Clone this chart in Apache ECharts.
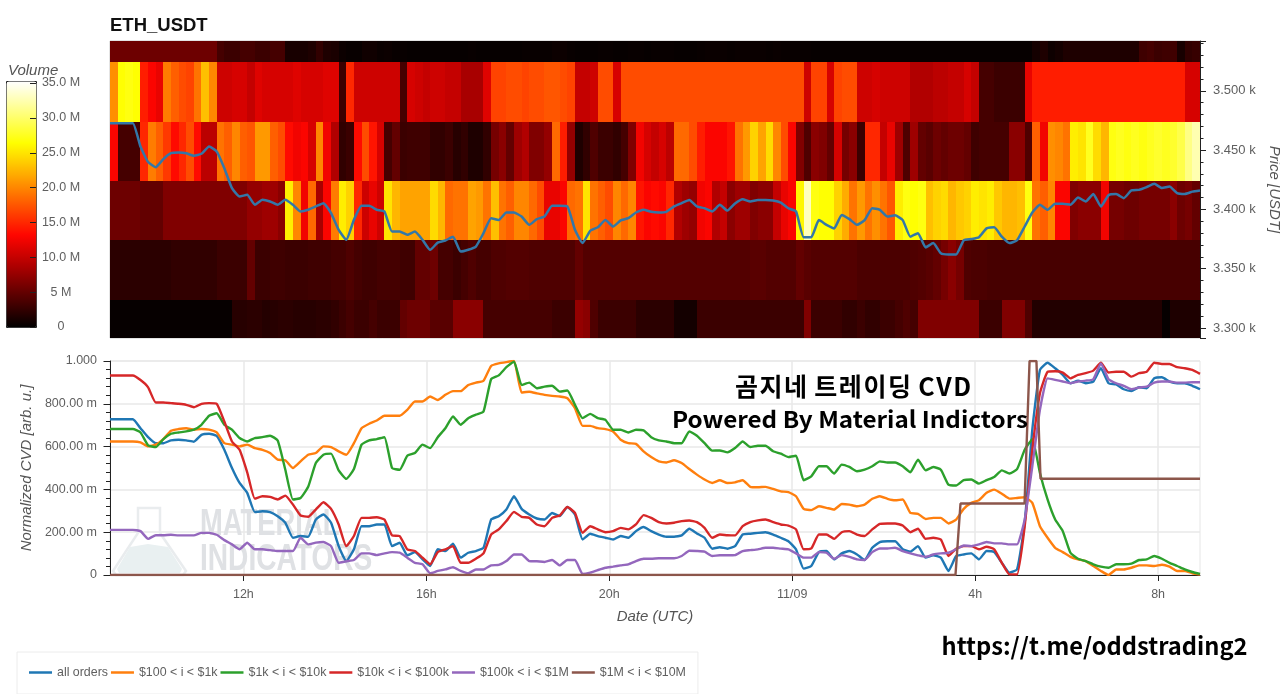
<!DOCTYPE html>
<html lang="en">
<head>
  <meta charset="UTF-8">
  <title>ETH_USDT CVD</title>
  <script src="https://cdn.jsdelivr.net/npm/echarts@6/dist/echarts.min.js"></script>
  <style>
    html, body { margin: 0; padding: 0; background: #fff; overflow: hidden; }
    #chart { width: 1280px; height: 694px; }
  </style>
</head>
<body>
  <div id="chart"></div>
  <script>
    // time in hours counted from 11/08 00:00 UTC, bins are 10 minutes wide
    const startHour = 9 + 5 / 60;
    const endHour = 32 + 55 / 60;
    const binHours = 10 / 60;
    const tickHours = [12, 16, 20, 24, 28, 32];
    const tickNames = ['12h', '16h', '20h', '11/09', '4h', '8h'];

    // heatmap price bands [low, high], top row first
    const priceBands = [[3524, 3542], [3474, 3524], [3424, 3474], [3374, 3424], [3324, 3374], [3291.6, 3324]];

    // traded volume in millions per 10 minute bin, one list per price band
    const volumeBand1 = [
      5.5,5.5,5.5,5.5,5.5,5.5,5.5,5.5,5.5,5.5,
      5.5,5.5,5.5,5.5,3.5,3,3,3.5,3.5,3,
      3,3.5,3.5,1.2,1.2,1.2,1.5,2.5,1.5,1.3,
      0.6,0.4,0.4,0.8,0.8,0.5,0.6,0.4,0.4,0.3,
      0.3,0.3,0.3,0.3,0.3,0.3,0.3,0.4,0.3,0.3,
      0.3,0.3,0.3,0.3,0.4,0.4,0.4,0.4,0.6,0.6,
      0.4,0.3,0.3,0.3,0.4,0.4,0.3,0.3,0.4,0.4,
      0.3,0.4,0.4,0.4,0.3,0.3,0.3,0.4,0.5,0.5,
      0.5,0.4,0.5,0.5,0.5,0.5,0.4,0.5,0.4,0.4,
      0.4,0.4,0.3,0.3,0.3,0.3,0.3,0.3,0.3,0.3,
      0.3,0.3,0.3,0.3,0.3,0.3,0.3,0.3,0.3,0.3,
      0.3,0.3,0.3,0.3,0.3,0.3,0.3,0.3,0.3,0.3,
      0.3,1,1.5,0.7,1,1.5,1.5,1.5,1.5,1.5,
      1.5,1.5,1.5,1.5,1.5,3.2,3.5,3,3.2,3.2,
      1.2,2.5,2.8
    ];
    const volumeBand2 = [
      20.5,26.5,27,26.5,14.5,13,12,19.5,18,17,
      16.5,19,23,20,10.5,10.5,11,11,10,11.5,
      11,11,11,11,11.5,11,11,11,11.5,11.5,
      3,15,10.5,10.5,10.5,10.5,10.5,10.5,3.5,11,
      10.5,10,10.5,10.5,10,10,8.5,8.5,8.5,11.5,
      16.5,16.5,17,17,16.5,17,17,17.5,17.5,17,
      16.5,10,10,10.5,17,17,11,17,17,17,
      17,17,17,17,17,17,17,17,17,17,
      17,17,17,17,17,17,17,17,17,17,
      17,10.5,16.5,16.5,11,16.5,17,17,10.5,10.5,
      11,10.5,10.5,10.5,10.5,9,9,9,9.5,9.5,
      10,10,11,10,3.5,3.5,3,3,3,3,
      12,14.5,14.5,14.5,14.5,14.5,14.5,14.5,14.5,14.5,
      14.5,14.5,14.5,14.5,14.5,14.5,14.5,14.5,14.5,14.5,
      14.5,11,11
    ];
    const volumeBand3 = [
      13,3.5,3.5,3.5,15,19.5,18,16,13.5,15,
      17,13.5,9.5,9.5,19,18,20,18,17.5,21,
      21,18,17,13.5,12.5,13,11,20,12.5,9,
      2.5,3,13.5,17,14,11,3.5,5,3,3.2,
      3.2,3.2,2.5,2.5,3,2,2.5,1.5,1.5,2.5,
      6,7,5,8,9,6.5,6.5,7.5,18.5,14.5,
      7.5,1.5,2.5,4,3,3,2.5,3.5,6.5,12.5,
      11,10,11,9.5,18.5,18.5,17,14.5,13,13,
      13,14,19,21,24,21.5,24.5,20,17,13,
      6.5,4,7,6.5,5,11,6,7,3,15,
      15,10,12,8,4,8,5,4.5,5.5,5,
      5.5,5.5,5,3.2,3.5,3.5,3.5,3.5,7,7,
      4,18,12.5,20.5,20,19,25.5,25,27.5,24.5,
      22.5,27,27.5,27,27.5,27,27.5,28,27.5,28,
      29,31,32.5
    ];
    const volumeBand4 = [
      5.5,5.5,5.5,5.5,5,5,5,6.5,6.5,6.5,
      6.5,6.5,6.5,6.5,6.5,6.5,6.5,6.5,7.5,7.5,
      8,8,7,25.5,20,12.5,18.5,8.5,13,19.5,
      25.5,24,15,10.5,12,10.5,25,22.5,21.5,21.5,
      21.5,21.5,24.5,22.5,18.5,19,19,21.5,21,19,
      23,19,18,20,20,18.5,17,12,12,13,
      18.5,19,25,19,18,17,20,18.5,20,14,
      13,13.5,13,15,9,8,7.5,12.5,13,9,
      10,7,8,8,6.5,7,7,10,12,13,
      26,33,27,26.5,26.5,24,22,19,21,19,
      20.5,19,17.5,25.5,27,26.5,27,23,24,24.5,
      22.5,23.5,24,25.5,25,25.5,23.5,22.5,22.5,23,
      27,19,18,20,13,13,6.5,7,7,7,
      12.5,6,6,5.5,5.5,6,6,6,6,7,
      5.5,6,5
    ];
    const volumeBand5 = [
      2.2,2.2,2.2,2.2,2.2,2.2,2.2,2.2,2.5,2.5,
      2.5,2.5,2.5,2.5,3,3,3,3,5,3,
      3,3.2,3.2,3,3,3,3.2,3.2,3.2,3.5,
      3.5,4,3.5,3.2,3.2,3.5,3.5,3.5,3.2,3.2,
      5,5,5.5,3.5,3.5,3,3.5,4,3.5,3.5,
      4,4,4.2,4.2,4.2,4,4,4,4,4,
      4,5,4.2,4.2,4.2,4.2,4.2,4.2,4.2,4.2,
      4.2,4.2,4.2,4.2,4.2,4.2,4.2,4.2,4.2,4.2,
      4.2,4.2,4.2,4.2,4.5,4.5,4.2,4.2,4.2,4.2,
      5,4.5,4.2,4.2,4.2,4.2,4.2,4.2,3.8,3.8,
      3.8,3.8,3.8,3.8,3.8,4,4.2,4.5,5,6,
      7,6,4,3.8,3.8,3.6,3.6,3.6,3.6,3.6,
      3.6,3.6,3.6,3.6,3.6,3.6,3.6,3.6,3.6,3.6,
      3.6,3.6,3.6,3.6,3.6,3.6,3.6,3.6,3.6,3.6,
      3.6,3.6,3.6
    ];
    const volumeBand6 = [
      0.3,0.3,0.3,0.3,0.3,0.3,0.3,0.3,0.3,0.3,
      0.3,0.3,0.3,0.3,0.3,0.3,2,2,2.2,2.2,
      1.8,2,2.2,2.2,2,2,2,2.2,2.2,2.5,
      3,3.5,3,3,3.5,3,3,3,5,5.5,
      5.5,5.5,4.5,4.5,4.5,7,7,7,7,3.5,
      3.5,3.5,3.5,3.5,3.5,3.5,3.5,3.5,3,3,
      3,7.5,7,4,3,3,3,3,3,2.2,
      2.2,2.2,2.2,2.2,1,1,1,3,3,3,
      3,3,3,3,3,3,3,3,3,3,
      3,6.5,3,3,3,3,2.5,2.5,3,2.5,
      2.5,3,3,3.5,4,3.5,6.5,6.5,6.5,6.5,
      6.5,6.5,6.5,6.5,3,3,3,6.5,6.5,6.5,
      4,1.7,1.7,1.7,1.7,1.7,1.7,1.7,1.7,1.7,
      1.7,1.7,1.7,1.7,1.7,1.7,1.7,1.7,0.3,1.5,
      1.5,1.5,1.5
    ];
    const volumeBands = [volumeBand1, volumeBand2, volumeBand3, volumeBand4, volumeBand5, volumeBand6];

    // last price in USDT, same 10 minute steps as the cvd lists
    const price = [
      3472.7,3472.7,3472.7,3472.7,3453,3439.9,3435.6,3442.4,3447.4,3448,
      3447.4,3445.2,3446.9,3453,3448.9,3434.8,3417.9,3410.9,3412.3,3403.9,
      3408.1,3406.7,3403.9,3408.1,3403.9,3398.3,3399.7,3402.5,3405.3,3396.9,
      3382.8,3374.4,3391.2,3403,3403,3399.7,3398.3,3381.4,3381.4,3378.6,
      3381.4,3374.4,3365.9,3372,3373.8,3377,3364.5,3366,3368.7,3380,
      3392.6,3391,3397.4,3397.4,3394,3387,3391.8,3394,3403,3403,
      3402.5,3382.8,3371.6,3382,3385,3391,3385.6,3390.7,3392.6,3397.4,
      3399.7,3398,3397.4,3398,3402.5,3405.3,3408,3402.5,3401,3398.3,
      3403.9,3399,3405,3408.6,3406.7,3408,3408,3407.5,3405.8,3401,
      3398.3,3376.6,3376.6,3391,3387,3384,3395.4,3391.8,3387,3391,
      3401,3399.7,3394,3395,3391,3377,3380,3368,3371.6,3363,
      3362,3362,3374,3375,3376.6,3384,3385,3377,3371.6,3374,
      3385.6,3397.4,3403.9,3399.7,3404.7,3404.7,3403.9,3410,3406.7,3413,
      3402.5,3412,3413,3409.5,3416,3416.5,3418.8,3421.6,3418,3419.3,
      3413.7,3413,3415,3416
    ];

    // normalized cvd in milli units
    const cvdAll = [
      728,728,728,728,686,644,616,616,629,632,
      629,623,655,660,650,585,500,430,384,294,
      298,294,275,244,174,182,179,259,283,244,
      135,65,120,228,228,236,236,135,151,92,
      107,73,42,120,112,146,81,104,112,127,
      259,275,306,368,309,283,264,259,290,275,
      318,283,166,193,182,174,166,182,174,205,
      224,205,189,179,179,185,216,194,174,123,
      130,123,135,189,193,197,200,189,174,158,
      120,30,42,107,112,73,101,112,96,70,
      127,154,158,158,120,109,135,81,92,81,
      19,88,96,101,73,112,107,57,11,26,
      244,679,958,992,966,935,896,908,896,904,
      966,896,891,868,860,877,873,919,924,904,
      896,896,884,868
    ];
    const cvd100to1k = [
      624,624,624,624,620,601,609,635,674,682,
      686,679,682,679,666,616,609,601,609,593,
      585,570,539,536,500,531,562,570,601,598,
      578,562,616,686,707,722,744,744,744,772,
      811,811,834,818,842,859,859,888,899,908,
      977,989,995,1000,853,856,849,842,837,834,
      826,780,697,697,686,682,671,632,616,613,
      578,551,531,526,536,523,495,469,446,430,
      443,430,433,443,412,410,412,402,391,387,
      368,309,303,321,314,306,332,329,321,329,
      356,368,356,349,353,290,286,262,267,267,
      241,259,309,337,349,384,399,380,357,360,
      363,337,228,174,127,107,85,73,65,42,
      19,0,26,26,34,45,45,42,48,39,
      19,19,8,2
    ];
    const cvd1kto10k = [
      682,682,682,682,666,606,598,635,660,666,
      671,679,702,744,756,702,679,640,624,640,
      644,651,629,492,353,360,412,523,562,567,
      489,449,495,609,629,635,644,500,492,557,
      570,609,593,644,686,741,702,733,749,764,
      915,933,971,997,888,899,873,880,884,857,
      862,795,733,753,733,725,679,679,666,679,
      676,644,629,624,616,616,671,651,616,581,
      582,573,593,624,598,604,604,578,567,551,
      557,443,461,508,508,474,516,505,485,492,
      508,531,526,526,508,480,539,489,505,492,
      422,418,443,446,427,443,458,489,474,495,
      585,635,477,353,259,205,104,76,65,50,
      39,34,50,50,53,70,73,89,76,57,
      42,26,14,5
    ];
    const cvd10kto100k = [
      932,932,932,932,911,877,806,806,803,800,
      795,784,800,803,800,717,624,585,480,357,
      368,365,353,371,329,278,272,306,340,309,
      236,135,182,267,267,270,259,185,182,120,
      112,81,50,107,120,135,57,57,76,101,
      189,213,252,295,272,267,236,228,267,278,
      318,290,197,228,213,200,205,220,213,236,
      280,267,247,241,244,252,255,247,220,174,
      189,186,185,228,247,255,259,247,236,231,
      213,120,124,189,189,169,200,205,189,182,
      213,239,241,241,231,200,216,169,174,166,
      89,123,135,135,120,132,120,57,3,3,
      228,585,849,949,952,946,919,935,943,955,
      992,946,950,950,927,943,950,992,986,986,
      971,966,958,940
    ];
    const cvd100kto1m = [
      211,211,211,211,205,169,186,186,188,185,
      185,185,197,197,188,163,143,120,151,120,
      120,116,112,112,112,174,143,151,154,135,
      57,64,70,101,101,93,101,107,104,81,
      57,50,8,19,26,36,19,8,26,26,
      45,47,65,96,96,65,64,61,70,45,
      70,70,5,11,23,34,39,45,50,65,
      76,76,78,78,78,89,113,112,109,89,
      92,92,93,112,116,120,127,127,123,120,
      101,81,81,107,104,76,93,85,73,70,
      107,124,124,127,112,101,92,85,96,101,
      104,120,138,135,143,154,148,148,143,143,
      259,508,772,919,912,904,896,904,908,915,
      989,915,896,884,868,876,880,899,904,904,
      899,899,901,901
    ];
    // this band only moves a few times, so it keeps its own time stamps
    const cvd1mto10mHours = [9.0833, 27.57, 27.68, 29.08, 29.19, 29.34, 29.43, 32.9167];
    const cvd1mto10m = [0, 0, 334, 334, 1000, 1000, 450, 450];

    const seriesNames = ['all orders', '$100 < i < $1k', '$1k < i < $10k', '$10k < i < $100k', '$100k < i < $1M', '$1M < i < $10M'];
    const seriesColors = ['#1f77b4', '#ff7f0e', '#2ca02c', '#d62728', '#9467bd', '#8c564b'];

    const volumeTickValues = [0, 5, 10, 15, 20, 25, 30, 35];
    const volumeTicks = { 0: '0', 5: '5 M', 10: '10.0 M', 15: '15.0 M', 20: '20.0 M', 25: '25.0 M', 30: '30.0 M', 35: '35.0 M' };

    // hot colormap sampled at even steps
    const hotColors = ['#000000', '#570000', '#ae0000', '#ff0500', '#ff5800', '#ffad00', '#ffff00', '#ffff80', '#ffffff'];

    const axisGray = '#5f5f5f';
    const labelFont = '"Liberation Sans", Arial, sans-serif';
    const titleStyle = { color: '#555', fontStyle: 'italic', fontSize: 15, fontFamily: labelFont };

    // rows for the custom heatmap: [from, to, priceLow, priceHigh, volume]
    const cells = [];
    volumeBands.forEach((band, b) => {
      band.forEach((vol, i) => {
        const from = startHour + i * binHours;
        cells.push([from, from + binHours, priceBands[b][0], priceBands[b][1], vol]);
      });
    });

    const withHours = (list) => list.map((v, i) => [startHour + i * binHours, v]);

    function renderCell(params, api) {
      const a = api.coord([api.value(0), api.value(3)]);
      const b = api.coord([api.value(1), api.value(2)]);
      // snap to whole pixels so neighbouring cells leave no seam
      const x0 = Math.round(a[0]);
      const y0 = Math.round(a[1]);
      const rect = echarts.graphic.clipRectByRect({
        x: x0, y: y0, width: Math.round(b[0]) - x0, height: Math.round(b[1]) - y0
      }, params.coordSys);
      return rect && { type: 'rect', shape: rect, style: { fill: api.visual('color') } };
    }

    // short ticks that sit on top of the colour bar
    function renderVolumeTick(params, api) {
      const p = api.coord([1, api.value(0)]);
      return {
        type: 'line',
        shape: { x1: p[0] - 6, y1: Math.round(p[1]) + 0.5, x2: p[0], y2: Math.round(p[1]) + 0.5 },
        style: { stroke: '#222', lineWidth: 1 }
      };
    }

    const cvdLists = [cvdAll, cvd100to1k, cvd1kto10k, cvd10kto100k, cvd100kto1m];
    const lineSeries = cvdLists.map((list, k) => ({
      name: seriesNames[k], type: 'line', xAxisIndex: 1, yAxisIndex: 1,
      data: withHours(list), symbol: 'none', silent: true, smooth: 0.15,
      lineStyle: { color: seriesColors[k], width: 2.4 }, itemStyle: { color: seriesColors[k] }
    }));
    lineSeries.push({
      name: seriesNames[5], type: 'line', xAxisIndex: 1, yAxisIndex: 1,
      data: cvd1mto10mHours.map((h, i) => [h, cvd1mto10m[i]]), symbol: 'none', silent: true,
      lineStyle: { color: seriesColors[5], width: 2.4 }, itemStyle: { color: seriesColors[5] }
    });

    const option = {
      animation: false,
      backgroundColor: '#fff',
      textStyle: { fontFamily: labelFont },
      grid: [
        { left: 110, top: 41, width: 1090, height: 297, show: true, borderColor: '#c8c8c8', borderWidth: 1, outerBoundsMode: 'none' },
        { left: 110, top: 361, width: 1090, height: 214, show: true, borderColor: '#e6e6e6', borderWidth: 1, outerBoundsMode: 'none' },
        { left: 6, top: 81, width: 30, height: 246, show: false, outerBoundsMode: 'none' }
      ],
      xAxis: [
        { gridIndex: 0, type: 'value', min: startHour, max: endHour, show: false },
        {
          gridIndex: 1, type: 'value', min: startHour, max: endHour,
          name: 'Date (UTC)', nameLocation: 'middle', nameGap: 34, nameTextStyle: titleStyle,
          axisLine: { show: true, onZero: false, lineStyle: { color: '#222' } },
          axisTick: { show: true, length: 6, customValues: tickHours, lineStyle: { color: '#222' } },
          axisLabel: {
            customValues: tickHours, color: axisGray, fontSize: 12.5, margin: 13,
            formatter: (v) => tickNames[tickHours.indexOf(v)]
          },
          splitLine: { show: true, lineStyle: { color: '#e8e8e8', width: 1.5 } }
        },
        { gridIndex: 2, type: 'value', min: 0, max: 1, show: false }
      ],
      yAxis: [
        {
          gridIndex: 0, type: 'value', position: 'right', min: 3291.6, max: 3542, splitNumber: 5,
          name: 'Price [USDT]', nameLocation: 'middle', nameGap: 62, nameRotate: -90, nameTextStyle: titleStyle,
          axisLine: { show: true, lineStyle: { color: '#222' } },
          axisTick: { show: true, length: 6, lineStyle: { color: '#222' } },
          minorTick: { show: true, splitNumber: 5, length: 3.5, lineStyle: { color: '#222' } },
          axisLabel: {
            color: axisGray, fontSize: 13, margin: 13, showMinLabel: false, showMaxLabel: false,
            formatter: (v) => (v / 1000).toFixed(3) + ' k'
          },
          splitLine: { show: false }
        },
        {
          gridIndex: 1, type: 'value', min: 0, max: 1000, interval: 200,
          name: 'Normalized CVD [arb. u.]', nameLocation: 'middle', nameGap: 72, nameTextStyle: titleStyle,
          axisLine: { show: true, onZero: false, lineStyle: { color: '#222' } },
          axisTick: { show: true, length: 6.5, lineStyle: { color: '#222' } },
          minorTick: { show: true, splitNumber: 5, length: 4, lineStyle: { color: '#222' } },
          axisLabel: {
            color: axisGray, fontSize: 12.5, margin: 13,
            formatter: (v) => (v === 1000 ? '1.000' : v === 0 ? '0' : v.toFixed(2) + ' m')
          },
          splitLine: { show: true, lineStyle: { color: '#e8e8e8', width: 1.5 } }
        },
        {
          gridIndex: 2, type: 'value', position: 'right', min: 0, max: 35.25, interval: 5,
          axisLine: { show: false },
          axisTick: { show: false },
          axisLabel: {
            color: axisGray, fontSize: 12.5, margin: 25, align: 'center', showMaxLabel: false,
            formatter: (v) => volumeTicks[v]
          },
          splitLine: { show: false }
        }
      ],
      visualMap: {
        type: 'continuous', seriesIndex: 0, dimension: 4, min: 0, max: 35.25,
        left: 6, top: 81, itemWidth: 30, itemHeight: 246, padding: 0,
        calculable: false, realtime: false, hoverLink: false, text: null,
        borderColor: '#222', borderWidth: 1,
        inRange: { color: hotColors }
      },
      legend: {
        left: 17, top: 652, orient: 'horizontal', icon: 'rect',
        padding: [13, 12, 14, 12], itemWidth: 23, itemHeight: 2.5, itemGap: 3,
        borderColor: '#ececec', borderWidth: 1, backgroundColor: '#fff',
        textStyle: { color: axisGray, fontSize: 12.4, lineHeight: 15 },
        data: seriesNames
      },
      graphic: [
        { type: 'text', x: 110, y: 16, z: 10, style: { text: 'ETH_USDT', fill: '#111', font: 'bold 18.5px ' + labelFont } },
        { type: 'text', x: 8, y: 63, z: 10, style: { text: 'Volume', fill: '#555', font: 'italic 15px ' + labelFont } },
        // watermark behind the lines
        {
          type: 'polygon', z: 1, silent: true,
          shape: { points: [[138, 508], [160, 508], [160, 533], [186, 571], [183, 575], [116, 575], [113, 571], [138, 533]] },
          style: { fill: 'none', stroke: '#e9ecee', lineWidth: 2.5 }
        },
        {
          type: 'polygon', z: 1, silent: true,
          shape: { points: [[130, 547], [148, 544], [168, 547], [182, 569], [180, 573], [119, 573], [117, 569]] },
          style: { fill: '#e9f0f1' }
        },
        { type: 'text', z: 1, silent: true, x: 200, y: 506, scaleX: 0.74, style: { text: 'MATERIAL', fill: '#dfe1e4', font: 'bold 37px ' + labelFont } },
        { type: 'text', z: 1, silent: true, x: 200, y: 541, scaleX: 0.76, style: { text: 'INDICATORS', fill: '#dfe1e4', font: 'bold 37px ' + labelFont } },
        // text stamped on top of the picture
        {
          type: 'text', z: 20, silent: true, x: 853, y: 386,
          style: { text: '곰\u200a지\u200a네 \u200a트\u200a레\u200a이\u200a딩 \u200aC\u200aV\u200aD', fill: '#000', font: 'bold 25px "Noto Sans CJK KR"', align: 'center', verticalAlign: 'middle' }
        },
        {
          type: 'text', z: 20, silent: true, x: 850, y: 419, scaleX: 1.053,
          style: { text: 'Powered By Material Indictors', fill: '#000', font: 'bold 23px "Noto Sans CJK KR"', align: 'center', verticalAlign: 'middle' }
        },
        {
          type: 'text', z: 20, silent: true, x: 1094.5, y: 646,
          style: { text: 'https://t.me/oddstrading2', fill: '#000', font: 'bold 23.7px "Noto Sans CJK KR"', align: 'center', verticalAlign: 'middle' }
        }
      ],
      series: [
        {
          type: 'custom', xAxisIndex: 0, yAxisIndex: 0, data: cells, silent: true,
          encode: { x: [0, 1], y: [2, 3] }, renderItem: renderCell
        },
        {
          type: 'line', xAxisIndex: 0, yAxisIndex: 0, data: withHours(price), symbol: 'none', silent: true, smooth: 0.15,
          z: 5, lineStyle: { color: '#3377a8', width: 2.5 }
        },
        {
          type: 'custom', xAxisIndex: 2, yAxisIndex: 2, data: volumeTickValues.map((v) => [v]), silent: true,
          z: 10, encode: { y: 0 }, renderItem: renderVolumeTick
        }
      ].concat(lineSeries)
    };

    echarts.init(document.getElementById('chart')).setOption(option);
  </script>
</body>
</html>
